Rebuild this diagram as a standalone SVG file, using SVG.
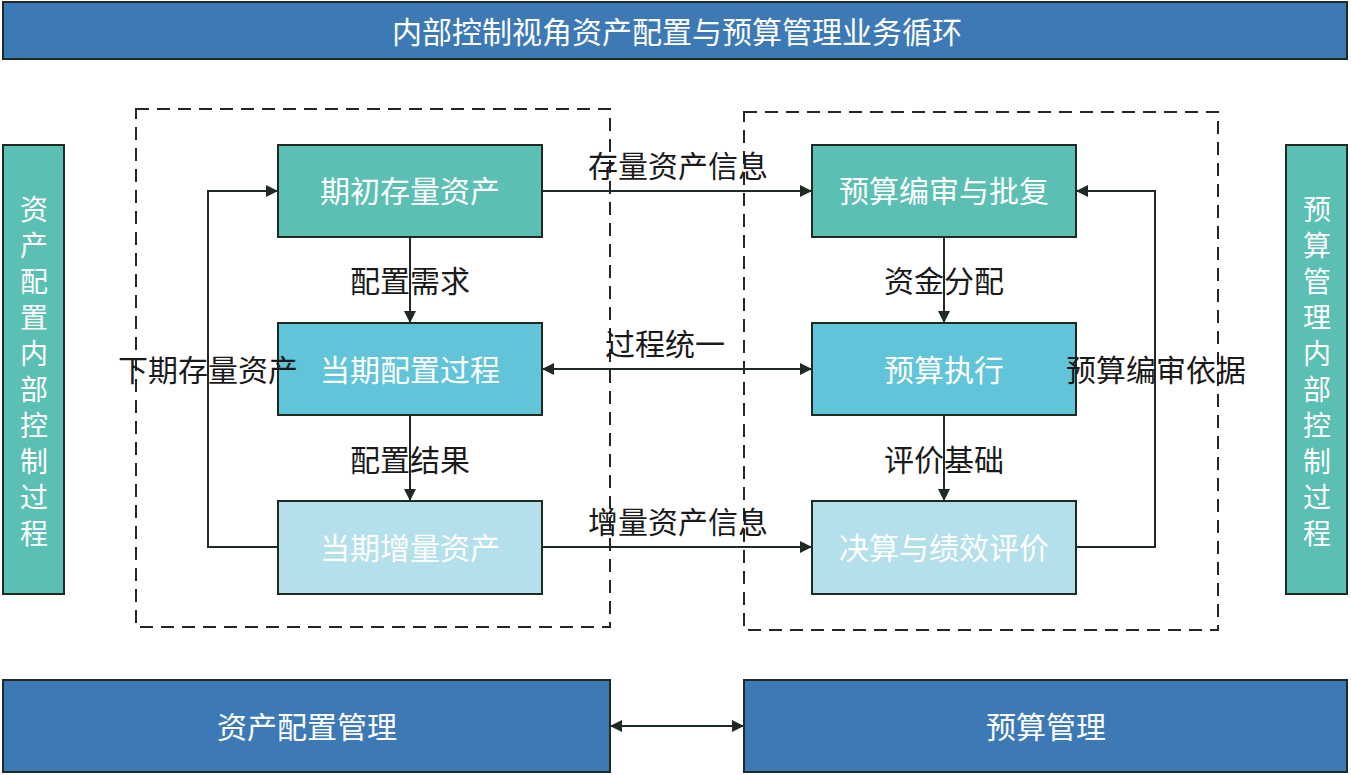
<svg xmlns="http://www.w3.org/2000/svg" width="1351" height="775" viewBox="0 0 1351 775">
<style>
.bar{fill:#3d7ab5;stroke:#1e2a22;stroke-width:2}
.side{fill:#5bbfb3;stroke:#1e2a22;stroke-width:2}
.n1{fill:#5bbfb3;stroke:#1e2a22;stroke-width:2}
.n2{fill:#62c4d9;stroke:#1e2a22;stroke-width:2}
.n3{fill:#b3e0ea;stroke:#1e2a22;stroke-width:2}
.dash{fill:none;stroke:#1e2a22;stroke-width:2;stroke-dasharray:13 8}
.w{fill:#ffffff;font-family:"Noto Sans CJK SC","Noto Sans",sans-serif;font-size:30px;text-anchor:middle;dominant-baseline:central}
.vt{fill:#ffffff;font-family:"Noto Sans CJK SC","Noto Sans",sans-serif;font-size:28px;text-anchor:middle;writing-mode:vertical-rl;letter-spacing:8px}
.lb{fill:#1a1a1a;font-family:"Noto Sans CJK SC","Noto Sans",sans-serif;font-size:30px;text-anchor:middle;dominant-baseline:central}
.ln{fill:none;stroke:#1e2a22;stroke-width:2}
</style>
<defs>
<marker id="ah" viewBox="0 0 12 12" refX="12" refY="6" markerWidth="12" markerHeight="12" markerUnits="userSpaceOnUse" orient="auto-start-reverse">
<path d="M0,0 L12,6 L0,12 Z" fill="#1e2a22"/>
</marker>
</defs>
<rect width="1351" height="775" fill="#ffffff"/>
<g id="title">
<rect class="bar" x="3" y="2" width="1344" height="57"/>
<text class="w" x="677" y="30">内部控制视角资产配置与预算管理业务循环</text>
</g>
<g id="groups">
<rect class="dash" x="136" y="109" width="474" height="518"/>
<rect class="dash" x="744" y="112" width="474" height="518"/>
</g>
<g id="left-side">
<rect class="side" x="3" y="145" width="61" height="449"/>
<text class="vt" x="34" y="375">资产配置内部控制过程</text>
</g>
<g id="right-side">
<rect class="side" x="1286" y="145" width="61" height="449"/>
<text class="vt" x="1317" y="375">预算管理内部控制过程</text>
</g>
<g id="connectors">
<line class="ln" x1="542" y1="191" x2="812" y2="191" marker-end="url(#ah)"/>
<line class="ln" x1="410" y1="237" x2="410" y2="323" marker-end="url(#ah)"/>
<line class="ln" x1="542" y1="369" x2="812" y2="369" marker-start="url(#ah)" marker-end="url(#ah)"/>
<line class="ln" x1="410" y1="415" x2="410" y2="501" marker-end="url(#ah)"/>
<line class="ln" x1="542" y1="547" x2="812" y2="547" marker-end="url(#ah)"/>
<polyline class="ln" points="278,547 208,547 208,191 278,191" marker-end="url(#ah)"/>
<line class="ln" x1="944" y1="237" x2="944" y2="323" marker-end="url(#ah)"/>
<line class="ln" x1="944" y1="415" x2="944" y2="501" marker-end="url(#ah)"/>
<polyline class="ln" points="1076,547 1155,547 1155,191 1076,191" marker-end="url(#ah)"/>
<line class="ln" x1="610" y1="726" x2="744" y2="726" marker-start="url(#ah)" marker-end="url(#ah)"/>
</g>
<g id="n-qichu">
<rect class="n1" x="278" y="145" width="264" height="92"/>
<text class="w" x="410" y="189">期初存量资产</text>
</g>
<g id="n-dangqi-peizhi">
<rect class="n2" x="278" y="323" width="264" height="92"/>
<text class="w" x="410" y="368">当期配置过程</text>
</g>
<g id="n-dangqi-zengliang">
<rect class="n3" x="278" y="501" width="264" height="93"/>
<text class="w" x="410" y="546">当期增量资产</text>
</g>
<g id="n-yusuan-bianshen">
<rect class="n1" x="812" y="145" width="264" height="92"/>
<text class="w" x="944" y="189">预算编审与批复</text>
</g>
<g id="n-yusuan-zhixing">
<rect class="n2" x="812" y="323" width="264" height="92"/>
<text class="w" x="944" y="368">预算执行</text>
</g>
<g id="n-juesuan">
<rect class="n3" x="812" y="501" width="264" height="93"/>
<text class="w" x="944" y="546">决算与绩效评价</text>
</g>
<g id="asset-mgmt">
<rect class="bar" x="3" y="680" width="607" height="92"/>
<text class="w" x="307" y="725">资产配置管理</text>
</g>
<g id="budget-mgmt">
<rect class="bar" x="744" y="680" width="603" height="92"/>
<text class="w" x="1046" y="725">预算管理</text>
</g>
<g id="connector-labels">
<text class="lb" x="678" y="164">存量资产信息</text>
<text class="lb" x="410" y="279">配置需求</text>
<text class="lb" x="665" y="342">过程统一</text>
<text class="lb" x="410" y="458">配置结果</text>
<text class="lb" x="678" y="520">增量资产信息</text>
<text class="lb" x="208" y="368">下期存量资产</text>
<text class="lb" x="944" y="279">资金分配</text>
<text class="lb" x="944" y="458">评价基础</text>
<text class="lb" x="1156" y="368">预算编审依据</text>
</g>
</svg>
